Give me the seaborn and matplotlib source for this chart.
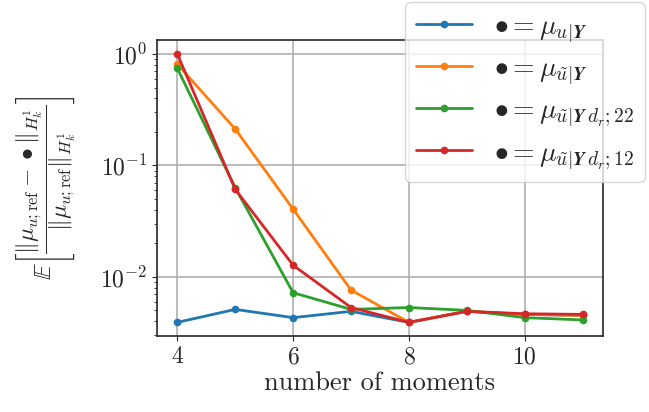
import numpy as np
import pandas as pd
import matplotlib
matplotlib.use("Agg")
import matplotlib.pyplot as plt
import seaborn as sns

moments = [4, 5, 6, 7, 8, 9, 10, 11]
err_u = [0.0039, 0.0051, 0.0043, 0.0049, 0.0039, 0.0049, 0.0046, 0.0045]
err_ut = [0.81, 0.212, 0.0405, 0.0076, 0.0039, 0.0049, 0.0046, 0.0045]
err_ut22 = [0.743, 0.063, 0.0072, 0.0051, 0.0053, 0.0050, 0.0043, 0.0041]
err_ut12 = [1.0, 0.061, 0.0127, 0.0053, 0.0039, 0.0049, 0.00466, 0.0046]

labels = [
    r"$\bullet = \mu_{u|\boldsymbol{Y}}$",
    r"$\bullet = \mu_{\tilde{u}|\boldsymbol{Y}}$",
    r"$\bullet = \mu_{\tilde{u}|\boldsymbol{Y}\,d_r;22}$",
    r"$\bullet = \mu_{\tilde{u}|\boldsymbol{Y}\,d_r;12}$",
]

df = pd.concat([
    pd.DataFrame({"moments": moments, "err": vals, "series": lab})
    for vals, lab in zip([err_u, err_ut, err_ut22, err_ut12], labels)
])

sns.set_style("ticks")
plt.rcParams["font.family"] = "serif"
plt.rcParams["font.serif"] = ["cmr10", "DejaVu Serif"]
plt.rcParams["mathtext.fontset"] = "cm"
plt.rcParams["axes.formatter.use_mathtext"] = True
plt.rcParams["font.size"] = 18

fig = plt.figure(figsize=(6.49, 4.12), dpi=100)
ax = fig.add_axes([0.242, 0.184, 0.687, 0.719])

sns.lineplot(data=df, x="moments", y="err", hue="series", palette="tab10",
             marker="o", markersize=5.5, markeredgewidth=0, linewidth=2, ax=ax)

ax.set_yscale("log")
ax.set_ylim(10**-2.533, 10**0.126)
ax.set_xlim(3.65, 11.35)
ax.set_xticks([4, 6, 8, 10])
ax.grid(True, which="major", color="#b0b0b0", linewidth=1.2)
for s in ax.spines.values():
    s.set_linewidth(1.2)
ax.tick_params(labelsize=17)

ax.set_xlabel("number of moments", fontsize=19, labelpad=2)
ax.set_ylabel(r"$\mathbb{E}\left[\dfrac{\Vert\mu_{u;\mathrm{ref}} - \bullet\Vert_{H^1_k}}"
              r"{\Vert\mu_{u;\mathrm{ref}}\Vert_{H^1_k}}\right]$", fontsize=17, labelpad=16)

leg = ax.legend(loc="upper left", bbox_to_anchor=(405 / 649, 1 - 2 / 412),
                bbox_transform=fig.transFigure, fontsize=20, framealpha=0.8,
                handlelength=2.0, borderaxespad=0, labelspacing=0.4, title=None)

fig.savefig("out.png", dpi=100)
